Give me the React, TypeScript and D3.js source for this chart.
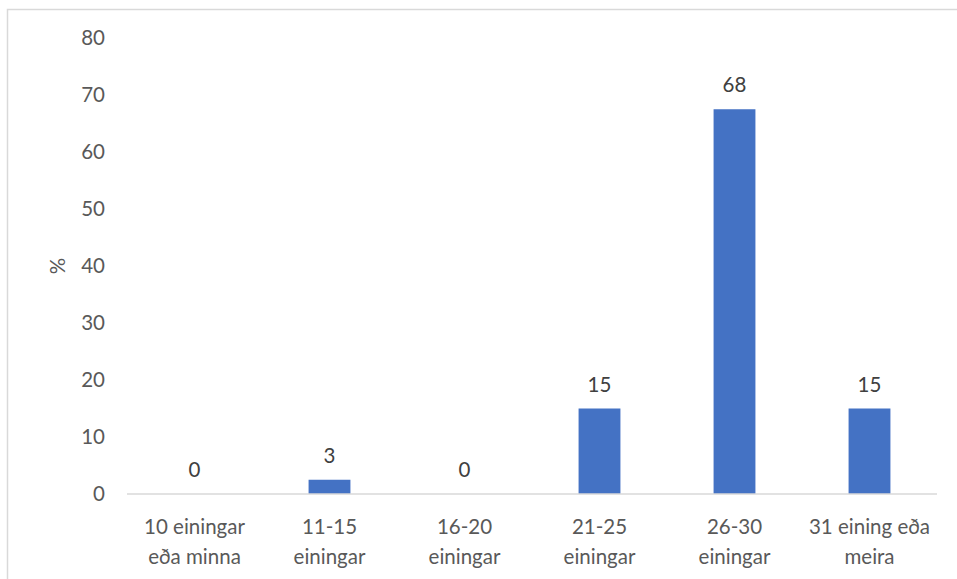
import React from "react";
import * as d3 from "d3";

const categories: string[][] = [
  ["10 einingar", "eða minna"],
  ["11-15", "einingar"],
  ["16-20", "einingar"],
  ["21-25", "einingar"],
  ["26-30", "einingar"],
  ["31 eining eða", "meira"],
];
const values: number[] = [0, 2.5, 0, 15, 67.5, 15];
const yTicks: number[] = [0, 10, 20, 30, 40, 50, 60, 70, 80];

const W = 957;
const H = 579;
const FONT = "Lato, 'Open Sans', sans-serif";
const FS = 20.5;

export default function App() {
  const x = d3
    .scaleBand<number>()
    .domain(d3.range(categories.length))
    .range([127, 937])
    .paddingInner(0.69)
    .paddingOuter(0.345);
  const band = d3.scaleBand<number>().domain(d3.range(categories.length)).range([127, 937]);
  const y = d3.scaleLinear().domain([0, 80]).range([494, 38]);

  return (
    <svg
      width={W}
      height={H}
      style={{ position: "absolute", left: 0, top: 0, background: "#fff" }}
      fontFamily={FONT}
    >
      <rect x={7.5} y={9.5} width={W + 10} height={H + 10} fill="#fff" stroke="#d9d9d9" strokeWidth={1.5} />
      {yTicks.map((t) => (
        <text key={t} x={105} y={y(t)} dy="0.35em" textAnchor="end" fontSize={FS} fill="#595959">
          {t}
        </text>
      ))}
      <text
        transform={`translate(${65},${y(40)}) rotate(-90)`}
        textAnchor="middle"
        fontSize={FS}
        fill="#595959"
      >
        %
      </text>
      {values.map((v, i) => (
        <g key={i}>
          {v > 0 && (
            <rect x={x(i)} y={y(v)} width={x.bandwidth()} height={y(0) - y(v)} fill="#4472c4" />
          )}
          <text
            x={(x(i) as number) + x.bandwidth() / 2}
            y={y(v) - 17}
            textAnchor="middle"
            fontSize={FS}
            fill="#404040"
          >
            {Math.round(v)}
          </text>
        </g>
      ))}
      <line x1={127} x2={937} y1={y(0)} y2={y(0)} stroke="#d9d9d9" strokeWidth={1.5} />
      {categories.map((lines, i) => (
        <text
          key={i}
          x={(band(i) as number) + band.bandwidth() / 2}
          textAnchor="middle"
          fontSize={FS}
          fill="#595959"
        >
          {lines.map((l, j) => (
            <tspan key={j} x={(band(i) as number) + band.bandwidth() / 2} y={534 + j * 30}>
              {l}
            </tspan>
          ))}
        </text>
      ))}
    </svg>
  );
}
